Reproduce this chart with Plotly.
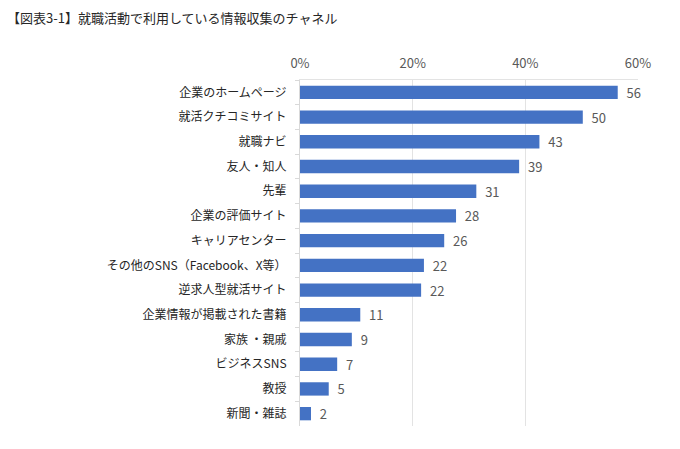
# -*- coding: utf-8 -*-
# 就職活動で利用している情報収集のチャネル - horizontal bar chart

import plotly.graph_objects as go

# data (percent)
channels = ["企業のホームページ", "就活クチコミサイト", "就職ナビ", "友人・知人", "先輩",
            "企業の評価サイト", "キャリアセンター", "その他のSNS（Facebook、X等）",
            "逆求人型就活サイト", "企業情報が掲載された書籍", "家族 ・親戚", "ビジネスSNS",
            "教授", "新聞・雑誌"]
shares = [56.4, 50.2, 42.5, 38.9, 31.3, 27.7, 25.6, 22.0, 21.5, 10.7, 9.2, 6.6, 5.1, 1.95]
shown = ["56", "50", "43", "39", "31", "28", "26", "22", "22", "11", "9", "7", "5", "2"]
x_ticks = [0, 20, 40, 60]
x_tick_text = ["0%", "20%", "40%", "60%"]

font_jp = "Noto Sans CJK JP"

fig = go.Figure(go.Bar(
    x=shares,
    y=channels,
    orientation="h",
    marker=dict(color="#4472C4", line=dict(width=0)),
    width=0.54,
    text=shown,
    texttemplate="  %{text}",  # little gap after the bar end
    textposition="outside",
    constraintext="none",
    textfont=dict(size=13, color="#595959", family=font_jp),
    cliponaxis=False,
))

# page body has an 8px margin, so the figure is a bit smaller than the window
fig.update_layout(
    width=672, height=441,
    margin=dict(l=292, r=42, t=72, b=23),
    paper_bgcolor="white", plot_bgcolor="white",
    showlegend=False,
    font=dict(family=font_jp, color="#262626"),
)

fig.add_annotation(
    text="【図表3-1】就職活動で利用している情報収集のチャネル",
    xref="paper", yref="paper", x=-0.872, y=1.182,
    xanchor="left", yanchor="middle", showarrow=False,
    font=dict(size=13, color="#262626", family=font_jp),
)

fig.update_xaxes(
    side="top", range=[0, 60], automargin=False,
    tickvals=x_ticks, ticktext=x_tick_text,
    tickfont=dict(size=13, color="#595959"),
    ticks="outside", ticklen=6, tickcolor="rgba(0,0,0,0)",
    showgrid=True, gridcolor="#E3E3E3", gridwidth=1,
    showline=True, linecolor="#E3E3E3", zeroline=False,
)

fig.update_yaxes(
    autorange="reversed", automargin=False,
    tickfont=dict(size=12, color="#262626"),
    ticks="outside", ticklen=4, tickcolor="#D9D9D9", tickson="boundaries",
    ticklabelstandoff=10,
    showline=True, linecolor="#D9D9D9", showgrid=False,
)

fig.write_html("out.html")
